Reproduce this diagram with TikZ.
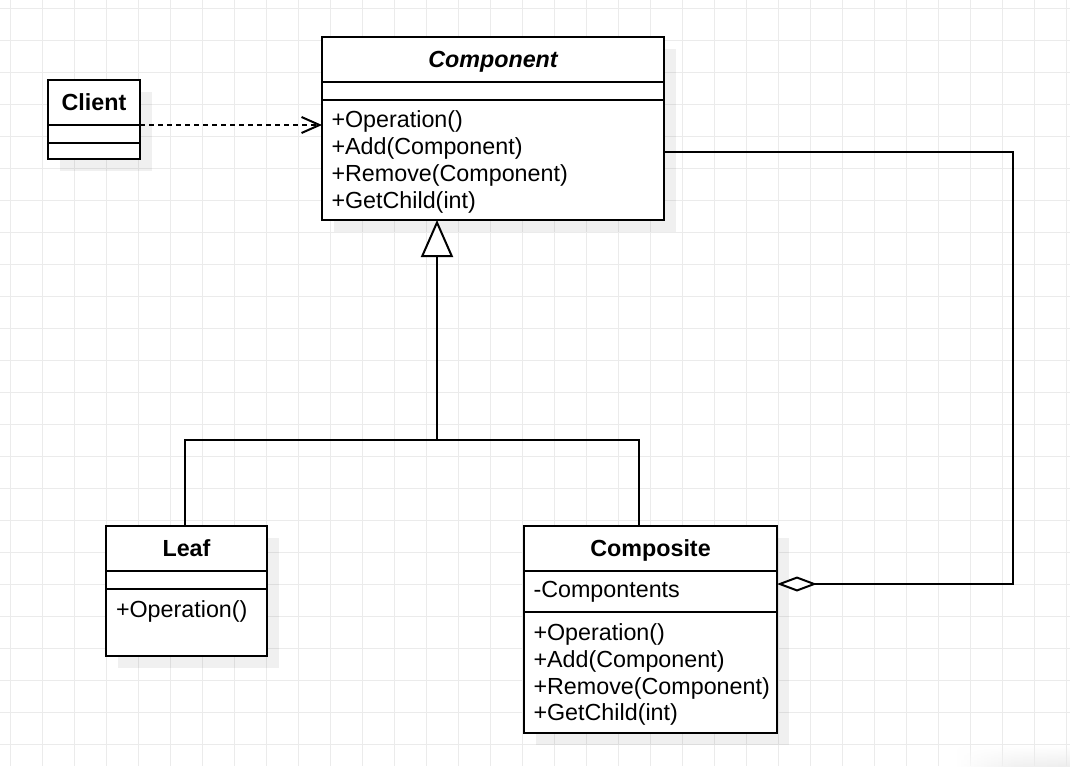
\documentclass[tikz,border=0pt]{standalone}
\usepackage{fontspec}
\setmainfont{Liberation Sans}
\usetikzlibrary{arrows.meta,fadings}
\definecolor{gridc}{HTML}{EBEBEB}
\begin{document}
\begin{tikzpicture}[x=1pt,y=-1pt,
  gridline/.style={draw=gridc,line width=1pt},
  shadowbox/.style={fill=black,fill opacity=0.06},
  umlbox/.style={draw=black,line width=2pt,fill=white,anchor=north west,inner sep=0pt,outer sep=0pt},
  sepline/.style={draw=black,line width=2pt},
  txt/.style={inner sep=0pt,outer sep=0pt,font=\fontsize{23.3}{27}\selectfont},
  ttl/.style={txt,anchor=base,font=\fontsize{23.3}{27}\selectfont\bfseries},
  mtd/.style={txt,anchor=base west},
  conn/.style={draw=black,line width=2pt,line join=miter},
]
\useasboundingbox (0,0) rectangle (1070,766);
\fill[white] (0,0) rectangle (1070,766);
% grid
\foreach \i in {0,...,33} \draw[gridline] (10.7+32*\i,0) -- (10.7+32*\i,766);
\foreach \j in {0,...,23} \draw[gridline] (0,8.3+32*\j) -- (1070,8.3+32*\j);
% faint patch bottom right
\shade[left color=white,right color=black!9,middle color=black!7,path fading=north,rounded corners=10pt] (955,746) rectangle (1075,772);
% shadows
\fill[shadowbox] (60,92) rectangle (152,171);
\fill[shadowbox] (334,49) rectangle (676,232);
\fill[shadowbox] (118,538) rectangle (279,668);
\fill[shadowbox] (536,538) rectangle (789,745);
% boxes
\node[umlbox,minimum width=92pt,minimum height=79pt] (client) at (48,80) {};
\node[umlbox,minimum width=342pt,minimum height=183pt] (comp) at (322,37) {};
\node[umlbox,minimum width=161pt,minimum height=130pt] (leaf) at (106,526) {};
\node[umlbox,minimum width=253pt,minimum height=207pt] (composite) at (524,526) {};
% separators
\draw[sepline] (48,125) -- (140,125);
\draw[sepline] (48,143) -- (140,143);
\draw[sepline] (322,82) -- (664,82);
\draw[sepline] (322,100) -- (664,100);
\draw[sepline] (106,571) -- (267,571);
\draw[sepline] (106,589) -- (267,589);
\draw[sepline] (524,571) -- (777,571);
\draw[sepline] (524,612) -- (777,612);
% titles
\node[ttl] (clientT) at (94,110) {Client};
\node[ttl,font=\fontsize{23.3}{27}\selectfont\bfseries\itshape] (compT) at (493,67.5) {Component};
\node[ttl] (leafT) at (186.5,556) {Leaf};
\node[ttl] (compositeT) at (650.5,556) {Composite};
% members
\node[mtd] (c1) at (331.5,127.5) {+Operation()};
\node[mtd] (c2) at (331.5,154.4) {+Add(Component)};
\node[mtd] (c3) at (331.5,181.2) {+Remove(Component)};
\node[mtd] (c4) at (331.5,208) {+GetChild(int)};
\node[mtd] (l1) at (116,617) {+Operation()};
\node[mtd] (k0) at (533.5,597.3) {-Compontents};
\node[mtd] (k1) at (533.5,640) {+Operation()};
\node[mtd] (k2) at (533.5,667) {+Add(Component)};
\node[mtd] (k3) at (533.5,694) {+Remove(Component)};
\node[mtd] (k4) at (533.5,720.6) {+GetChild(int)};
% connector points
\coordinate (clientR) at (140,125);
\coordinate (compL) at (322,125);
\coordinate (compB) at (437,220);
\coordinate (genJoin) at (437,440);
\coordinate (leafTop) at (185,526);
\coordinate (compositeTop) at (639,526);
\coordinate (compR) at (664,152);
\coordinate (aggCorner) at (1013,584);
\coordinate (compositeR) at (777,584);
% dependency
\draw[conn,dash pattern=on 5pt off 4pt,-{Straight Barb[length=18pt,width=16pt,line width=2pt]}] (clientR) -- (compL);
% generalization
\draw[conn] (leafTop) |- (genJoin) -| (compositeTop);
\draw[conn,-{Triangle[length=37pt,width=32pt,fill=white,line width=2pt]}] (genJoin) -- (compB);
% aggregation
\draw[conn,-{Diamond[length=40pt,width=15pt,fill=white,line width=2pt]}] (compR) -| (aggCorner) -- (compositeR);
\end{tikzpicture}
\end{document}
